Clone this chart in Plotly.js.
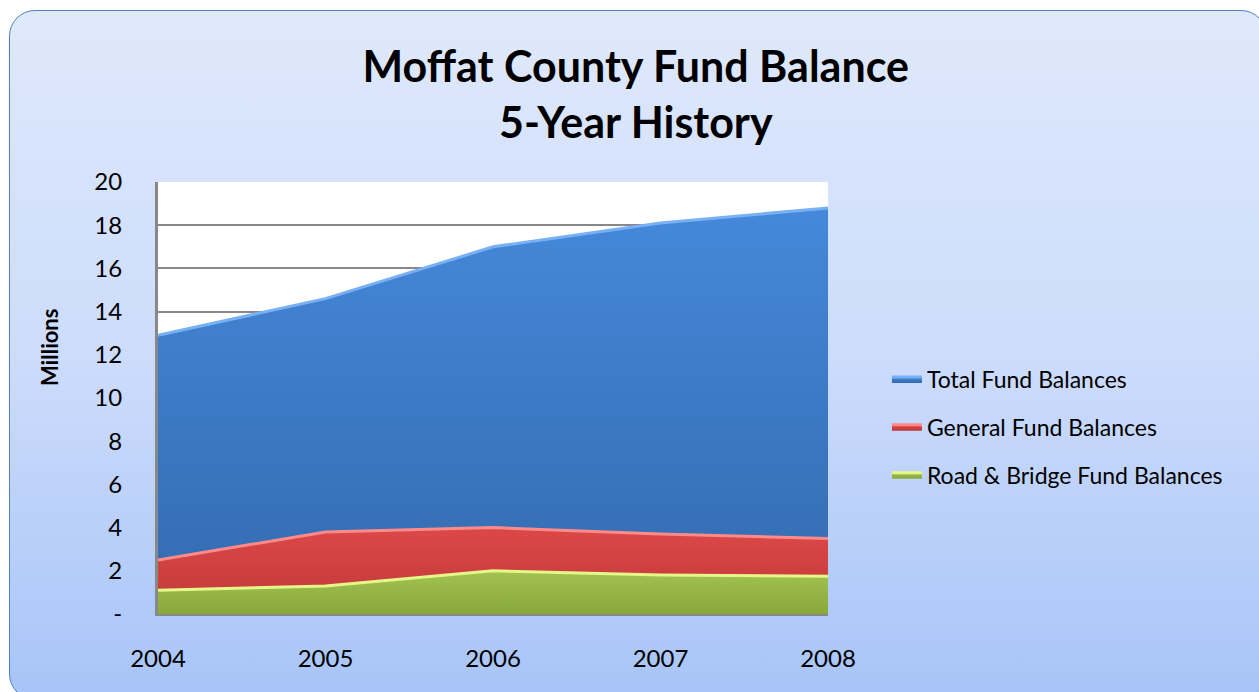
<!DOCTYPE html>
<html>
<head>
<meta charset="utf-8">
<script src="https://cdn.plot.ly/plotly-3.0.1.min.js"></script>
<style>
  html, body { margin: 0; padding: 0; width: 1259px; height: 692px; overflow: hidden; background: #ffffff; }
  #frame {
    position: absolute; left: 9px; top: 10px; width: 1258px; height: 690px;
    box-sizing: border-box; border: 1.5px solid #4f81bd; border-radius: 26px;
    background: linear-gradient(to bottom, #dfe9fc 0%, #cddcfb 50%, #a7c4f8 100%);
  }
  #chart { position: absolute; left: 0; top: 0; width: 1259px; height: 692px; }
</style>
</head>
<body>
<div id="frame"></div>
<div id="chart"></div>
<script>
const years = [2004, 2005, 2006, 2007, 2008];
const totalFund = [12.9, 14.6, 17.0, 18.1, 18.8];
const generalFund = [2.5, 3.8, 4.0, 3.7, 3.5];
const roadBridgeFund = [1.1, 1.3, 2.0, 1.8, 1.75];
const seriesNames = ["Total Fund Balances", "General Fund Balances", "Road & Bridge Fund Balances"];
const yTickVals = [0, 2, 4, 6, 8, 10, 12, 14, 16, 18, 20];
const yTickText = ["-", "2", "4", "6", "8", "10", "12", "14", "16", "18", "20"];
const yAxisLabel = "Millions";

const font = "Lato, 'Open Sans', sans-serif";

function areaTrace(y, name, group, lineColor, top, bottom, legendColor) {
  return {
    x: years, y: y, name: name, type: "scatter", mode: "lines",
    legendgroup: group,
    fill: "tozeroy",
    fillcolor: legendColor,
    fillgradient: { type: "vertical", colorscale: [[0, bottom], [1, top]] },
    line: { color: lineColor, width: 3 },
    hoverinfo: "skip"
  };
}

const data = [
  areaTrace(totalFund, seriesNames[0], "g1", "#78b0f4", "#4588da", "#336aae", "#4a86d0"),
  areaTrace(generalFund, seriesNames[1], "g2", "#ff8a8a", "#dc4848", "#c03838", "#d44848"),
  areaTrace(roadBridgeFund, seriesNames[2], "g3", "#e6f78a", "#a2c350", "#88a83c", "#9bbb59")
];

const layout = {
  width: 1259, height: 692,
  paper_bgcolor: "rgba(0,0,0,0)",
  plot_bgcolor: "#ffffff",
  margin: { l: 158, r: 431, t: 182, b: 78 },
  font: { family: font, color: "#000000" },
  title: {
    text: "<b>Moffat County Fund Balance<br>5-Year History</b>",
    font: { family: font, size: 43, color: "#000000" },
    xref: "container", yref: "container",
    x: 0.505, xanchor: "center", y: 0.882, yanchor: "top"
  },
  showlegend: true,
  legend: {
    x: 1.088, xanchor: "left", y: 0.433, yanchor: "middle",
    bgcolor: "rgba(0,0,0,0)",
    font: { family: font, size: 23, color: "#000000" },
    tracegroupgap: 15, itemwidth: 30
  },
  xaxis: {
    range: [2004, 2008], tickvals: years, ticktext: years.map(String),
    showgrid: false, zeroline: false,
    showline: true, linecolor: "#888888", linewidth: 2,
    ticks: "", ticklen: 0,
    tickfont: { family: font, size: 24, color: "#000000" },
    ticklabelstandoff: 22
  },
  yaxis: {
    range: [0, 20], tickvals: yTickVals, ticktext: yTickText,
    showgrid: true, gridcolor: "#888888", gridwidth: 2,
    zeroline: false, showline: true, linecolor: "#888888", linewidth: 3,
    ticks: "", ticklen: 0,
    tickfont: { family: font, size: 24, color: "#000000" },
    ticklabelstandoff: 28
  },
  annotations: [{
    text: "<b>" + yAxisLabel + "</b>",
    xref: "paper", yref: "paper", x: -0.161, y: 0.616,
    xanchor: "center", yanchor: "middle", textangle: -90, showarrow: false,
    font: { family: font, size: 22, color: "#000000" }
  }]
};

Plotly.newPlot("chart", data, layout, { displayModeBar: false, staticPlot: true });
</script>
</body>
</html>
